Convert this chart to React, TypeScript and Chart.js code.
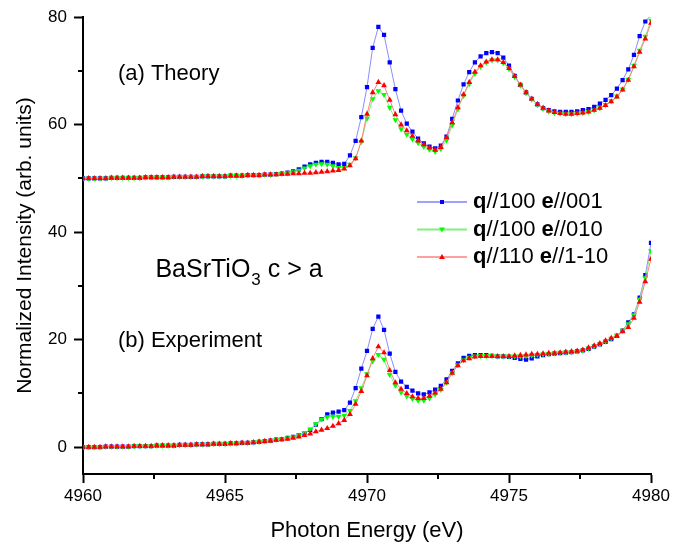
import React, { useEffect, useRef } from "react";
import { Chart, registerables } from "chart.js";

Chart.register(...registerables);

// Photon energy grid (eV)
const energies = [
  4960.0, 4960.2, 4960.4, 4960.6, 4960.8, 4961.0, 4961.2, 4961.4, 4961.6, 4961.8,
  4962.0, 4962.2, 4962.4, 4962.6, 4962.8, 4963.0, 4963.2, 4963.4, 4963.6, 4963.8,
  4964.0, 4964.2, 4964.4, 4964.6, 4964.8, 4965.0, 4965.2, 4965.4, 4965.6, 4965.8,
  4966.0, 4966.2, 4966.4, 4966.6, 4966.8, 4967.0, 4967.2, 4967.4, 4967.6, 4967.8,
  4968.0, 4968.2, 4968.4, 4968.6, 4968.8, 4969.0, 4969.2, 4969.4, 4969.6, 4969.8,
  4970.0, 4970.2, 4970.4, 4970.6, 4970.8, 4971.0, 4971.2, 4971.4, 4971.6, 4971.8,
  4972.0, 4972.2, 4972.4, 4972.6, 4972.8, 4973.0, 4973.2, 4973.4, 4973.6, 4973.8,
  4974.0, 4974.2, 4974.4, 4974.6, 4974.8, 4975.0, 4975.2, 4975.4, 4975.6, 4975.8,
  4976.0, 4976.2, 4976.4, 4976.6, 4976.8, 4977.0, 4977.2, 4977.4, 4977.6, 4977.8,
  4978.0, 4978.2, 4978.4, 4978.6, 4978.8, 4979.0, 4979.2, 4979.4, 4979.6, 4979.8,
  4980.0,
];

// (a) Theory
const theoryQ100E001 = [
  50.0, 50.0, 50.0, 50.0, 50.0, 50.1, 50.1, 50.1, 50.1, 50.1,
  50.1, 50.2, 50.2, 50.2, 50.2, 50.2, 50.3, 50.3, 50.3, 50.3,
  50.3, 50.4, 50.4, 50.4, 50.4, 50.4, 50.5, 50.5, 50.5, 50.6,
  50.6, 50.6, 50.7, 50.7, 50.8, 50.9, 51.1, 51.3, 51.7, 52.2,
  52.6, 52.9, 53.1, 53.1, 52.9, 52.6, 52.7, 54.3, 57.0, 61.4,
  67.0, 74.3, 78.2, 76.7, 71.6, 66.6, 62.6, 60.2, 58.7, 57.4,
  56.5, 55.9, 55.6, 56.1, 57.8, 61.1, 64.5, 67.5, 69.8, 71.6,
  72.7, 73.3, 73.5, 73.3, 72.5, 71.0, 69.1, 67.4, 66.0, 64.8,
  63.8, 63.1, 62.7, 62.5, 62.4, 62.4, 62.4, 62.5, 62.7, 62.9,
  63.3, 63.9, 64.6, 65.5, 66.7, 68.3, 70.3, 73.0, 76.5, 79.2,
  80.4,
];
const theoryQ100E010 = [
  50.0, 50.0, 50.0, 50.0, 50.0, 50.1, 50.1, 50.1, 50.1, 50.1,
  50.1, 50.2, 50.2, 50.2, 50.2, 50.2, 50.3, 50.3, 50.3, 50.3,
  50.3, 50.4, 50.4, 50.4, 50.4, 50.4, 50.5, 50.5, 50.5, 50.6,
  50.6, 50.6, 50.7, 50.7, 50.8, 50.9, 51.0, 51.2, 51.5, 51.9,
  52.3, 52.6, 52.7, 52.6, 52.3, 52.0, 52.0, 52.6, 53.8, 56.8,
  61.2, 64.8, 66.3, 65.6, 63.2, 60.9, 59.2, 58.2, 57.3, 56.6,
  55.9, 55.4, 55.0, 55.5, 57.1, 59.9, 62.9, 65.4, 67.6, 69.5,
  70.8, 71.6, 72.0, 72.0, 71.5, 70.4, 68.9, 67.3, 65.9, 64.7,
  63.7, 63.0, 62.5, 62.2, 62.1, 62.0, 62.0, 62.1, 62.2, 62.4,
  62.7, 63.1, 63.7, 64.4, 65.3, 66.6, 68.4, 71.0, 73.8, 76.4,
  79.4,
];
const theoryQ110E1m10 = [
  50.0, 50.0, 50.0, 50.0, 50.0, 50.1, 50.1, 50.1, 50.1, 50.1,
  50.1, 50.2, 50.2, 50.2, 50.2, 50.2, 50.3, 50.3, 50.3, 50.3,
  50.3, 50.4, 50.4, 50.4, 50.4, 50.4, 50.5, 50.5, 50.5, 50.6,
  50.6, 50.6, 50.7, 50.7, 50.7, 50.8, 50.8, 50.9, 50.9, 51.0,
  51.0, 51.1, 51.2, 51.3, 51.4, 51.5, 51.8, 52.4, 53.7, 57.0,
  62.0, 66.0, 67.9, 67.3, 64.6, 61.9, 60.0, 58.9, 57.9, 57.0,
  56.3, 55.7, 55.3, 55.8, 57.6, 60.4, 63.2, 65.6, 67.9, 69.8,
  71.0, 71.7, 72.1, 72.1, 71.6, 70.5, 69.0, 67.4, 66.0, 64.8,
  63.8, 63.1, 62.6, 62.3, 62.1, 62.0, 62.0, 62.1, 62.2, 62.4,
  62.7, 63.1, 63.6, 64.3, 65.2, 66.5, 68.3, 70.8, 73.5, 76.0,
  78.9,
];

// (b) Experiment
const exptQ100E001 = [
  0.0, 0.0, 0.0, 0.0, 0.1, 0.1, 0.1, 0.1, 0.1, 0.2,
  0.2, 0.2, 0.2, 0.3, 0.3, 0.3, 0.3, 0.4, 0.4, 0.4,
  0.5, 0.5, 0.5, 0.6, 0.6, 0.6, 0.7, 0.7, 0.8, 0.8,
  0.9, 1.0, 1.1, 1.2, 1.4, 1.5, 1.7, 1.9, 2.2, 2.6,
  3.2, 4.2, 5.2, 6.1, 6.4, 6.6, 6.9, 8.3, 11.0, 14.6,
  17.9, 22.0, 24.3, 21.8, 17.4, 14.0, 12.2, 11.2, 10.5, 10.0,
  9.8, 10.2, 10.7, 11.4, 12.6, 14.2, 15.6, 16.6, 17.0, 17.1,
  17.1, 17.1, 17.0, 16.9, 16.9, 16.8, 16.6, 16.4, 16.3, 16.5,
  16.9, 17.1, 17.3, 17.4, 17.5, 17.6, 17.7, 17.8, 18.0, 18.3,
  18.7, 19.1, 19.6, 20.1, 20.7, 21.7, 23.2, 24.7, 27.8, 32.0,
  38.0,
];
const exptQ100E010 = [
  0.0, 0.0, 0.0, 0.0, 0.1, 0.1, 0.1, 0.1, 0.1, 0.2,
  0.2, 0.2, 0.2, 0.3, 0.3, 0.3, 0.3, 0.4, 0.4, 0.4,
  0.5, 0.5, 0.5, 0.6, 0.6, 0.6, 0.7, 0.7, 0.8, 0.8,
  0.9, 1.0, 1.1, 1.2, 1.4, 1.5, 1.7, 1.9, 2.2, 2.7,
  3.3, 4.3, 5.2, 5.6, 5.7, 5.7, 5.9, 6.8, 8.6, 11.0,
  13.6, 16.0, 17.2, 16.3, 13.5, 11.5, 10.2, 9.5, 9.0, 8.7,
  8.7, 9.1, 9.8, 10.7, 12.0, 13.8, 15.3, 16.2, 16.7, 16.9,
  17.0, 17.0, 17.0, 16.9, 16.9, 16.9, 16.9, 16.9, 17.0, 17.1,
  17.2, 17.3, 17.4, 17.5, 17.6, 17.6, 17.7, 17.8, 18.0, 18.4,
  18.8, 19.2, 19.7, 20.2, 20.8, 21.7, 22.9, 24.6, 27.5, 31.5,
  36.5,
];
const exptQ110E1m10 = [
  0.0, 0.0, 0.0, 0.0, 0.1, 0.1, 0.1, 0.1, 0.1, 0.2,
  0.2, 0.2, 0.2, 0.3, 0.3, 0.3, 0.3, 0.4, 0.4, 0.4,
  0.5, 0.5, 0.5, 0.6, 0.6, 0.6, 0.7, 0.7, 0.8, 0.8,
  0.9, 1.0, 1.1, 1.2, 1.3, 1.4, 1.5, 1.7, 1.9, 2.2,
  2.5, 2.9, 3.2, 3.5, 3.9, 4.4, 5.0, 6.1, 8.0, 10.4,
  13.3, 16.5, 18.7, 17.6, 14.3, 12.0, 10.8, 10.0, 9.4, 9.1,
  9.1, 9.5, 10.1, 10.8, 12.0, 13.8, 15.2, 16.1, 16.5, 16.8,
  16.9, 16.9, 16.9, 16.9, 16.9, 16.9, 17.0, 17.1, 17.2, 17.3,
  17.3, 17.4, 17.5, 17.5, 17.6, 17.7, 17.8, 17.9, 18.1, 18.5,
  18.9, 19.3, 19.8, 20.3, 20.7, 21.5, 22.3, 24.0, 27.0, 30.8,
  35.0,
];

const seriesLabels = ["q//100 e//001", "q//100 e//010", "q//110 e//1-10"];
const xMajorTicks = [4960, 4965, 4970, 4975, 4980];
const xMinorTicks = [4962.5, 4967.5, 4972.5, 4977.5];
const yMajorTicks = [0, 20, 40, 60, 80];
const yMinorTicks = [10, 30, 50, 70];

const FONT = '"Liberation Sans", Arial, Helvetica, sans-serif';

const toXY = (ys: number[]) => ys.map((y, i) => ({ x: energies[i], y }));

const styleBlue = {
  borderColor: "#8c8cff",
  backgroundColor: "#0000ff",
  pointBackgroundColor: "#0000ff",
  pointBorderColor: "#0000ff",
  pointStyle: "rect" as const,
  pointRadius: 3,
  pointRotation: 0,
};
const styleGreen = {
  borderColor: "#80f080",
  backgroundColor: "#00ff00",
  pointBackgroundColor: "#00ff00",
  pointBorderColor: "#00ff00",
  pointStyle: "triangle" as const,
  pointRadius: 3.4,
  pointRotation: 180,
};
const styleRed = {
  borderColor: "#ff8080",
  backgroundColor: "#ff0000",
  pointBackgroundColor: "#ff0000",
  pointBorderColor: "#ff0000",
  pointStyle: "triangle" as const,
  pointRadius: 3.4,
  pointRotation: 0,
};

const decorPlugin = {
  id: "decor",
  afterDraw(chart: any) {
    const { ctx, chartArea } = chart;
    const xs = chart.scales.x;
    const ys = chart.scales.y;
    ctx.save();
    // minor ticks
    ctx.strokeStyle = "#000";
    ctx.lineWidth = 2;
    ctx.beginPath();
    xMinorTicks.forEach((v) => {
      const px = Math.round(xs.getPixelForValue(v));
      ctx.moveTo(px, chartArea.bottom);
      ctx.lineTo(px, chartArea.bottom + 5);
    });
    yMinorTicks.forEach((v) => {
      const py = Math.round(ys.getPixelForValue(v));
      ctx.moveTo(chartArea.left, py);
      ctx.lineTo(chartArea.left - 5, py);
    });
    ctx.stroke();

    // annotations
    ctx.fillStyle = "#000";
    ctx.textBaseline = "middle";
    ctx.textAlign = "left";
    ctx.font = `22px ${FONT}`;
    ctx.fillText("(a) Theory", xs.getPixelForValue(4961.23), ys.getPixelForValue(69.5));
    ctx.fillText("(b) Experiment", xs.getPixelForValue(4961.23), ys.getPixelForValue(19.8));

    // BaSrTiO3 c > a
    let bx = xs.getPixelForValue(4962.55);
    const by = ys.getPixelForValue(32.9);
    ctx.font = `25px ${FONT}`;
    ctx.fillText("BaSrTiO", bx, by);
    bx += ctx.measureText("BaSrTiO").width + 1;
    ctx.font = `17px ${FONT}`;
    ctx.fillText("3", bx, by + 10);
    bx += ctx.measureText("3").width;
    ctx.font = `25px ${FONT}`;
    ctx.fillText(" c > a", bx, by);

    // legend
    const rows = [
      { y: 202, line: "#a0a0ff", fill: "#0000ff", kind: "rect", a: "//100 ", b: "//001" },
      { y: 229.5, line: "#80f080", fill: "#00ff00", kind: "down", a: "//100 ", b: "//010" },
      { y: 257, line: "#ffa0a0", fill: "#ff0000", kind: "up", a: "//110 ", b: "//1-10" },
    ];
    rows.forEach((r) => {
      ctx.strokeStyle = r.line;
      ctx.lineWidth = 2;
      ctx.beginPath();
      ctx.moveTo(417, r.y);
      ctx.lineTo(467, r.y);
      ctx.stroke();
      ctx.fillStyle = r.fill;
      ctx.beginPath();
      const mx = 442;
      if (r.kind === "rect") {
        ctx.rect(mx - 2, r.y - 2, 4, 4);
      } else if (r.kind === "down") {
        ctx.moveTo(mx - 3, r.y - 2);
        ctx.lineTo(mx + 3, r.y - 2);
        ctx.lineTo(mx, r.y + 3);
        ctx.closePath();
      } else {
        ctx.moveTo(mx - 3, r.y + 2);
        ctx.lineTo(mx + 3, r.y + 2);
        ctx.lineTo(mx, r.y - 3);
        ctx.closePath();
      }
      ctx.fill();
      ctx.fillStyle = "#000";
      let tx = 473;
      ctx.font = `bold 22px ${FONT}`;
      ctx.fillText("q", tx, r.y);
      tx += ctx.measureText("q").width;
      ctx.font = `22px ${FONT}`;
      ctx.fillText(r.a, tx, r.y);
      tx += ctx.measureText(r.a).width;
      ctx.font = `bold 22px ${FONT}`;
      ctx.fillText("e", tx, r.y);
      tx += ctx.measureText("e").width;
      ctx.font = `22px ${FONT}`;
      ctx.fillText(r.b, tx, r.y);
    });
    ctx.restore();
  },
};

export default function App() {
  const ref = useRef<HTMLCanvasElement | null>(null);
  useEffect(() => {
    if (!ref.current) return;
    const common = { borderWidth: 1, pointBorderWidth: 0, showLine: true, fill: false, tension: 0 };
    const chart = new Chart(ref.current, {
      type: "line",
      data: {
        datasets: [
          { label: seriesLabels[2] + " theory", data: toXY(theoryQ110E1m10), ...common, ...styleRed, order: 0 },
          { label: seriesLabels[2] + " expt", data: toXY(exptQ110E1m10), ...common, ...styleRed, order: 0 },
          { label: seriesLabels[1] + " theory", data: toXY(theoryQ100E010), ...common, ...styleGreen, order: 1 },
          { label: seriesLabels[1] + " expt", data: toXY(exptQ100E010), ...common, ...styleGreen, order: 1 },
          { label: seriesLabels[0] + " theory", data: toXY(theoryQ100E001), ...common, ...styleBlue, order: 2 },
          { label: seriesLabels[0] + " expt", data: toXY(exptQ100E001), ...common, ...styleBlue, order: 2 },
        ] as any,
      },
      options: {
        responsive: false,
        animation: false,
        devicePixelRatio: 1,
        layout: { padding: { top: 13, right: 48, left: 0, bottom: 0 } },
        plugins: { legend: { display: false }, tooltip: { enabled: false } },
        scales: {
          x: {
            type: "linear",
            min: 4960,
            max: 4980,
            afterBuildTicks: (s: any) => {
              s.ticks = xMajorTicks.map((v) => ({ value: v }));
            },
            afterFit: (s: any) => {
              s.height = 73;
            },
            grid: { drawOnChartArea: false, drawTicks: true, tickLength: 9, tickWidth: 2, tickColor: "#000" },
            border: { display: true, color: "#000", width: 2 },
            ticks: {
              color: "#000",
              font: { size: 17, family: FONT },
              padding: 3,
              maxRotation: 0,
              autoSkip: false,
              callback: (v: any) => String(v),
            },
            title: {
              display: true,
              text: "Photon Energy (eV)",
              color: "#000",
              font: { size: 22, family: FONT },
              padding: { top: 0, bottom: 3 },
            },
          },
          y: {
            type: "linear",
            min: -5,
            max: 80,
            afterBuildTicks: (s: any) => {
              s.ticks = yMajorTicks.map((v) => ({ value: v }));
            },
            afterFit: (s: any) => {
              s.width = 83;
            },
            grid: { drawOnChartArea: false, drawTicks: true, tickLength: 9, tickWidth: 2, tickColor: "#000" },
            border: { display: true, color: "#000", width: 2 },
            ticks: { color: "#000", font: { size: 17, family: FONT }, padding: 7, callback: (v: any) => String(v) },
            title: {
              display: true,
              text: "Normalized Intensity (arb. units)",
              color: "#000",
              font: { size: 21, family: FONT },
              padding: { top: 13, bottom: 0 },
            },
          },
        },
      } as any,
      plugins: [decorPlugin],
    });
    return () => chart.destroy();
  }, []);
  return (
    <div style={{ position: "absolute", left: 0, top: 0, width: 699, height: 547, background: "#fff" }}>
      <canvas ref={ref} width={699} height={547} style={{ display: "block" }} />
    </div>
  );
}
